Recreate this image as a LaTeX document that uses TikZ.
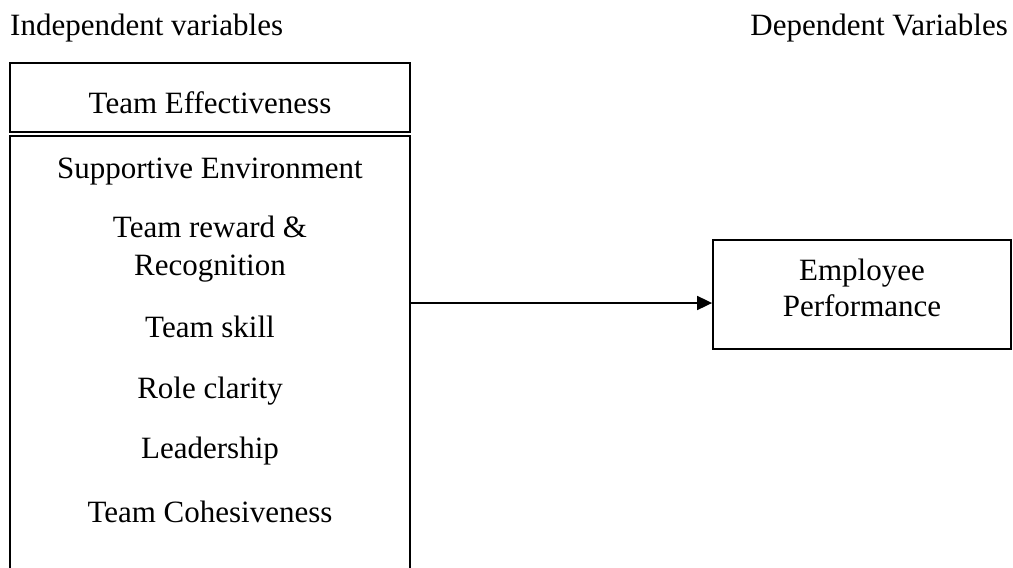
\documentclass[tikz,border=0pt]{standalone}
\usepackage{fontspec}
\setmainfont{Liberation Serif}
\usetikzlibrary{arrows.meta}
\begin{document}
\begin{tikzpicture}[x=1pt,y=-1pt,
  lbl/.style={font=\fontsize{31}{36}\selectfont, inner sep=0pt},
  item/.style={lbl, anchor=base, align=center},
  frame/.style={line width=1.8pt, draw=black},
  conn/.style={line width=1.8pt, -{Triangle[length=15pt,width=14pt]}}
]
\useasboundingbox (0,0) rectangle (1013,568);
\clip (0,0) rectangle (1013,568);
% top labels
\node[lbl, anchor=base west] (indep) at (10,35) {Independent variables};
\node[lbl, anchor=base east] (dep) at (1008,35) {Dependent Variables};
% header box
\node[frame, minimum width=400pt, minimum height=69pt, inner sep=0pt] (head) at (210,97.5) {};
\node[item] (headtxt) at (210,113) {Team Effectiveness};
% body box (open at bottom, runs off the page)
\node[minimum width=400pt, minimum height=450pt, inner sep=0pt, anchor=north] (body) at (210,136) {};
\draw[frame] (body.south west) -- (body.north west) -- (body.north east) -- (body.south east);
\node[item] (i1) at (210,178) {Supportive Environment};
\node[item] (i2) at (210,237) {Team reward \&};
\node[item] (i2b) at (210,275) {Recognition};
\node[item] (i3) at (210,337) {Team skill};
\node[item] (i4) at (210,398) {Role clarity};
\node[item] (i5) at (210,458) {Leadership};
\node[item] (i6) at (210,522) {Team Cohesiveness};
% dependent box
\node[frame, minimum width=298pt, minimum height=109pt, inner sep=0pt] (emp) at (862,294.5) {};
\node[item] (e1) at (862,280) {Employee};
\node[item] (e2) at (862,316) {Performance};
% connector
\coordinate (ay) at (0,303);
\draw[conn] (body.east |- ay) -- (emp.west |- ay);
\end{tikzpicture}
\end{document}
